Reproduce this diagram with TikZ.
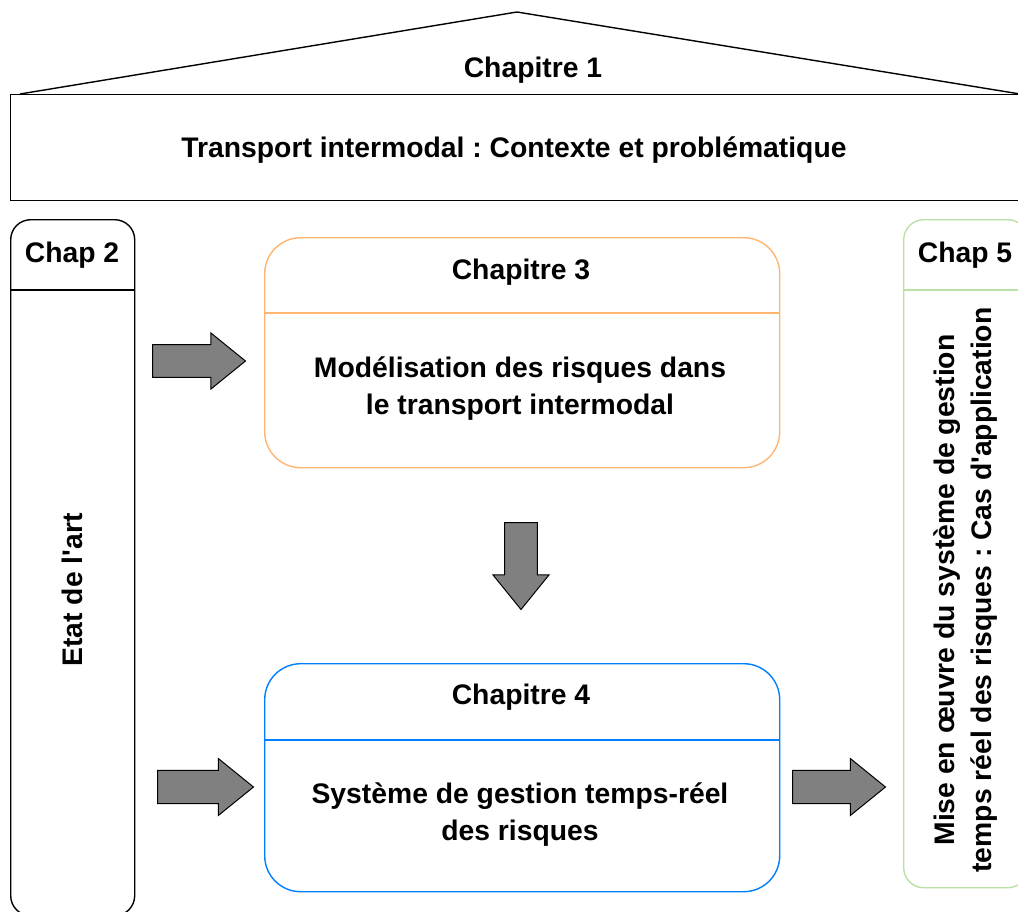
\documentclass[tikz,border=0pt]{standalone}
\usepackage{fontspec}
\setmainfont{Liberation Sans}[Ligatures=TeXOff]
\usetikzlibrary{shapes.arrows}
\frenchspacing

\definecolor{chaporange}{HTML}{FFB570}
\definecolor{chapblue}{HTML}{007FFF}
\definecolor{chapgreen}{HTML}{B9E0A5}

\begin{document}
\begin{tikzpicture}[
    x=1pt, y=-1pt,
    txt/.style={font=\fontsize{28.3}{37}\selectfont\bfseries, align=center, inner sep=0pt},
    chapbox/.style={draw, line width=1.4pt, inner sep=0pt, anchor=north west},
    blockarrow/.style={shape=single arrow, draw, fill=gray, line width=1pt,
      inner sep=9.5pt, single arrow tip angle=78, anchor=tail}
    ]

    \useasboundingbox (0,0) rectangle (1018,911);

    % chapter 1 (roof):
    \coordinate (roofl) at (20,94);
    \coordinate (roofr) at (1020,94);
    \coordinate (rooftop) at (517,12);
    \draw[line width=1.4pt] (roofl) -- (rooftop) -- (roofr);
    \node (c1) [chapbox, minimum width=1012, minimum height=106] at (10,94) {};
    \node (c1head) at (533,70) [txt] {Chapitre 1};
    \node (c1body) at (514,150) [txt] {Transport intermodal : Contexte et problématique};

    % chapter 2:
    \node (c2) [chapbox, rounded corners=20pt, minimum width=124, minimum height=696] at (10,219) {};
    \draw[line width=1.4pt] (c2.west |- 0,290) -- (c2.east |- 0,290);
    \node (c2head) at (72,255) [txt] {Chap 2};
    \node (c2body) at (72,590) [txt, rotate=90] {Etat de l'art};

    % chapter 3:
    \node (c3) [chapbox, draw=chaporange, rounded corners=36pt, minimum width=515, minimum height=230] at (264,237) {};
    \draw[line width=1.4pt, chaporange] (c3.west |- 0,313) -- (c3.east |- 0,313);
    \node (c3head) at (521,272) [txt] {Chapitre 3};
    \node (c3body) at (520,389) [txt] {Modélisation des risques dans\\le transport intermodal};

    % chapter 4:
    \node (c4) [chapbox, draw=chapblue, rounded corners=36pt, minimum width=515, minimum height=228] at (264,663) {};
    \draw[line width=1.4pt, chapblue] (c4.west |- 0,740) -- (c4.east |- 0,740);
    \node (c4head) at (521,697) [txt] {Chapitre 4};
    \node (c4body) at (520,815) [txt] {Système de gestion temps-réel\\des risques};

    % chapter 5:
    \node (c5) [chapbox, draw=chapgreen, rounded corners=20pt, minimum width=124, minimum height=668] at (903,219) {};
    \draw[line width=1.4pt, chapgreen] (c5.west |- 0,290) -- (c5.east |- 0,290);
    \node (c5head) at (965,255) [txt] {Chap 5};
    \node (c5body) at (966,590) [txt, rotate=90] {Mise en œuvre du système de gestion\\temps réel des risques : Cas d'application};

    % block arrows:
    \node (a23) [blockarrow, minimum height=93, minimum width=56] at (152,361) {};
    \node (a34) [blockarrow, shape border rotate=270, minimum height=87, minimum width=56] at (521,522) {};
    \node (a24) [blockarrow, minimum height=96, minimum width=57] at (157,787) {};
    \node (a45) [blockarrow, minimum height=93, minimum width=57] at (792,787) {};

  \end{tikzpicture}
\end{document}
